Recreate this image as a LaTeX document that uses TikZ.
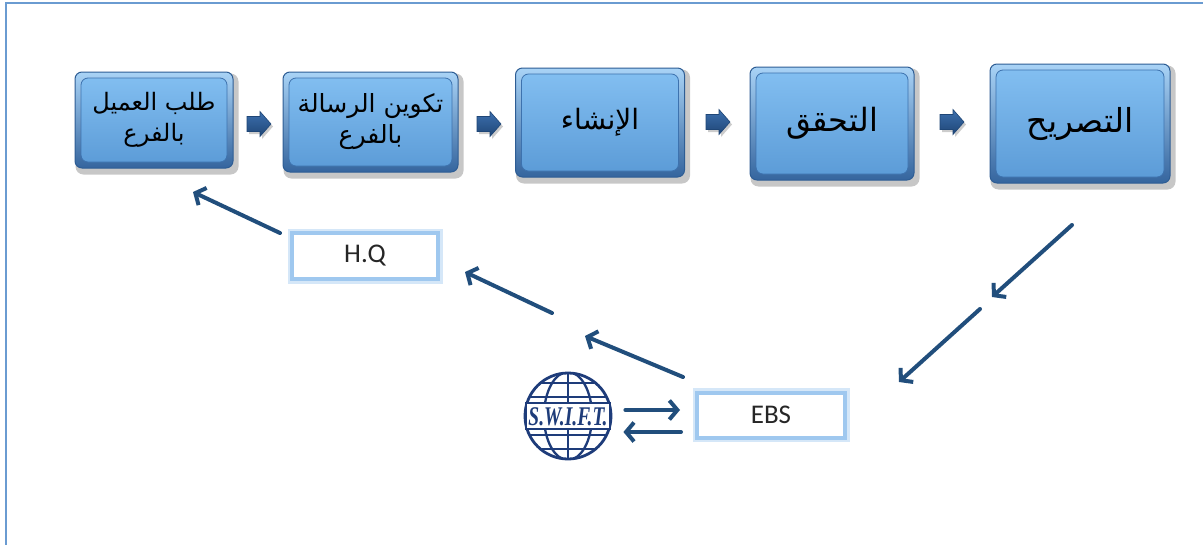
\documentclass[tikz,border=0pt]{standalone}
\usepackage{fontspec}
\newfontfamily\arabicfont[Script=Arabic]{DejaVu Sans}
\newfontfamily\latinsans{Carlito}
\newfontfamily\swiftfont{Liberation Serif}
\TeXXeTstate=1
\usetikzlibrary{arrows.meta,calc,backgrounds}
\definecolor{arrowblue}{HTML}{214E7C}
\definecolor{framec}{HTML}{6A9BD1}
\definecolor{bevtop}{HTML}{A9D3F6}
\definecolor{bevbot}{HTML}{35659E}
\definecolor{bevline}{HTML}{2E5D94}
\definecolor{facetop}{HTML}{84C0F2}
\definecolor{facebot}{HTML}{5A9AD6}
\definecolor{faceline}{HTML}{3D72AE}
\definecolor{glowout}{HTML}{D5E7F8}
\definecolor{glowin}{HTML}{9FC8EF}
\definecolor{swiftblue}{HTML}{1E3C7A}
\definecolor{blkdark}{HTML}{1F4676}
\definecolor{blklight}{HTML}{3C6FAE}
\tikzset{
  bevelbox/.style={rectangle, rounded corners=7pt, inner sep=0pt,
    top color=bevtop, bottom color=bevbot, draw=bevline, line width=1pt,
    align=center, text=black,
    path picture={\draw[faceline, line width=0.8pt, top color=facetop, bottom color=facebot]
      ([shift={(6,6)}]path picture bounding box.north west) rectangle
      ([shift={(-6,-6)}]path picture bounding box.south east);}},
  glowbox/.style={rectangle, inner sep=0pt, fill=white, draw=glowin, line width=4pt,
    preaction={draw=glowout, line width=9pt},
    font=\latinsans\fontsize{27}{29}\selectfont, text=black!85},
  arr/.style={draw=arrowblue, line width=4pt, line cap=round,
    -{Straight Barb[length=8pt,width=19pt]}},
  swiftline/.style={draw=swiftblue, line width=2.3pt},
  frameline/.style={draw=framec, line width=2.5pt},
  blockarrow/.pic={\fill[black, opacity=0.2] (-10,-5) -- (3,-5) -- (3,-10) -- (14,2.5) -- (3,15) -- (3,10) -- (-10,10) -- cycle;
    \draw[blkdark, line width=0.6pt, top color=blklight, bottom color=blkdark]
    (-12,-7.5) -- (1,-7.5) -- (1,-12.5) -- (12,0) -- (1,12.5) -- (1,7.5) -- (-12,7.5) -- cycle;}
}
\begin{document}
\begin{tikzpicture}[x=1pt,y=-1pt]
\useasboundingbox (0,0) rectangle (1203,544);

% frame
\draw[frameline] (6,546) -- (6,3) -- (1205,3);

% top boxes
\node[bevelbox, minimum width=158pt, minimum height=96pt, font=\arabicfont\fontsize{24}{31}\selectfont] (b1) at (154,120)
  {\beginR طلب العميل\endR\\\beginR بالفرع\endR};
\node[bevelbox, minimum width=175pt, minimum height=100pt, font=\arabicfont\fontsize{25}{31}\selectfont] (b2) at (370.5,122)
  {\beginR تكوين الرسالة\endR\\\beginR بالفرع\endR};
\node[bevelbox, minimum width=169pt, minimum height=109pt, font=\arabicfont\fontsize{28}{32}\selectfont] (b3) at (600,122.5)
  {\beginR الإنشاء\endR};
\node[bevelbox, minimum width=164pt, minimum height=113pt, font=\arabicfont\fontsize{32}{36}\selectfont] (b4) at (832,123.5)
  {\beginR التحقق\endR};
\node[bevelbox, minimum width=180pt, minimum height=119pt, font=\arabicfont\fontsize{33}{37}\selectfont] (b5) at (1080,123.5)
  {\beginR التصريح\endR};

% small block arrows between boxes
\pic at (259,124) {blockarrow};
\pic at (489,124) {blockarrow};
\pic at (718,122) {blockarrow};
\pic at (952,122) {blockarrow};

% H.Q and EBS
\node[glowbox, minimum width=146pt, minimum height=46pt] (hq) at (365,256) {H.Q};
\node[glowbox, minimum width=148pt, minimum height=45pt] (ebs) at (771,415) {EBS};

% SWIFT logo
\node[circle, draw=swiftblue, line width=2.8pt, minimum size=86pt, inner sep=0pt] (swift) at (568,416) {};
\begin{scope}
  \clip (swift.center) circle (42);
  \draw[swiftline] (swift.center) ellipse (24 and 44);
  \draw[swiftline] ($(swift.center)+(0,-44)$) -- ($(swift.center)+(0,44)$);
  \draw[swiftline] ($(swift.center)+(-44,-33)$) -- ($(swift.center)+(44,-33)$);
  \draw[swiftline] ($(swift.center)+(-44,-19)$) -- ($(swift.center)+(44,-19)$);
  \draw[swiftline] ($(swift.center)+(-44,19)$) -- ($(swift.center)+(44,19)$);
  \draw[swiftline] ($(swift.center)+(-44,33)$) -- ($(swift.center)+(44,33)$);
\end{scope}
\draw[swiftline, fill=white] ($(swift.center)+(-42,-13)$) rectangle ($(swift.center)+(42,13)$);
\node[font=\swiftfont\bfseries\itshape\fontsize{27}{27}\selectfont, text=swiftblue, xscale=0.72, inner sep=0pt] (swifttext) at ($(swift.center)+(0,1)$) {S.W.I.F.T.};

% connectors
\coordinate (p1) at (1072,225);
\coordinate (p2) at (992,297);
\coordinate (p3) at (980,309);
\coordinate (p4) at (899,382);
\coordinate (p5) at (683,377);
\coordinate (p6) at (585,336);
\coordinate (p7) at (552,313);
\coordinate (p8) at (465,272);
\coordinate (p9) at (280,233);
\coordinate (p10) at (193,192);
\draw[arr] (p1) -- (p2);
\draw[arr] (p3) -- (p4);
\draw[arr] (p5) -- (p6);
\draw[arr] (p7) -- (p8);
\draw[arr] (p9) -- (p10);
\draw[arr] ([shift={(13,-6)}]swift.east) -- ([shift={(-15,-5)}]ebs.west);
\draw[arr] ([shift={(-14,17)}]ebs.west) -- ([shift={(11,16)}]swift.east);

% background and shadows
\begin{scope}[on background layer]
  \fill[white] (0,0) rectangle (1203,544);
  \foreach \b in {b1,b2,b3,b4,b5}{
    \fill[black, opacity=0.22, rounded corners=8pt]
      ([shift={(1,2)}]\b.north west) rectangle ([shift={(5,6)}]\b.south east);
  }
\end{scope}
\end{tikzpicture}
\end{document}
